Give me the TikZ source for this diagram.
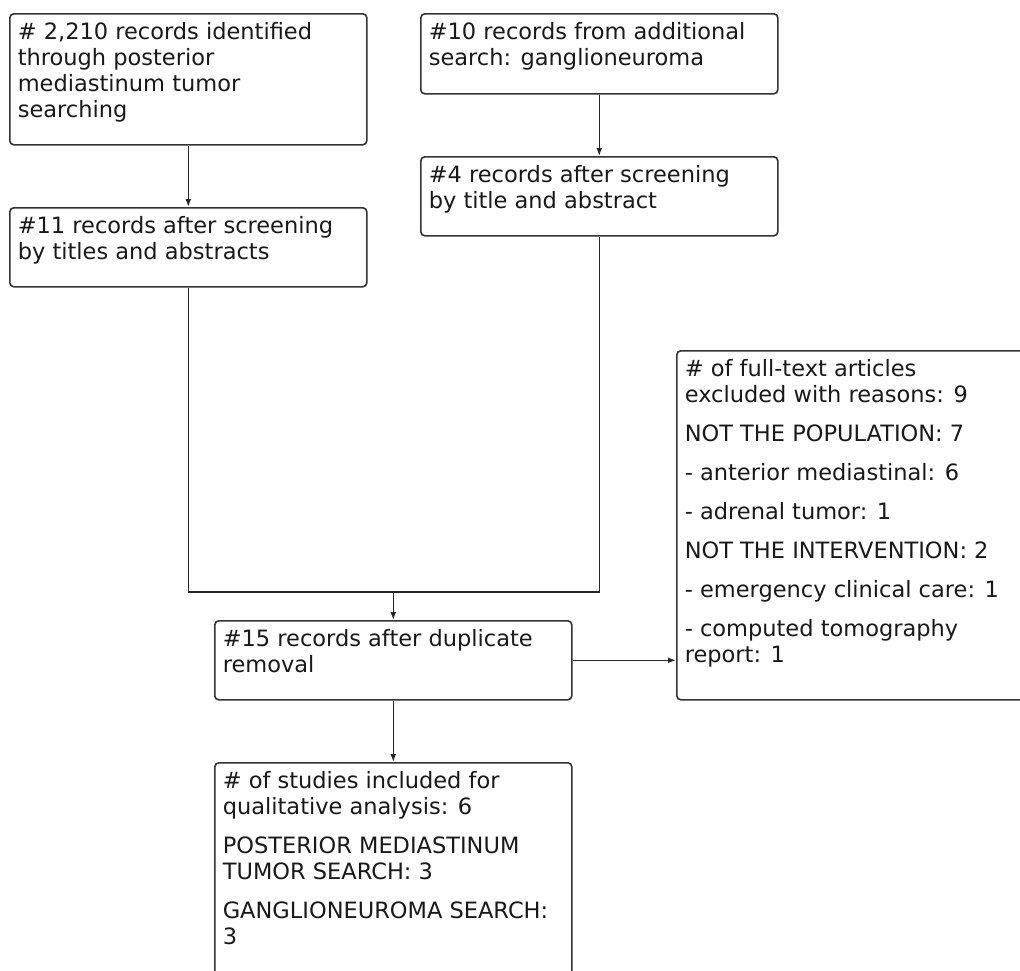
\documentclass[tikz,border=0pt]{standalone}
\usepackage{fontspec}
\setmainfont{DejaVu Sans}
\usepackage{tikz}
\usetikzlibrary{arrows.meta}
\usetikzlibrary{positioning}

\newcommand{\boxtext}[3]{\parbox[c][#2][t]{#1}{\raggedright\setlength{\parskip}{13pt}#3}}

\begin{document}
\begin{tikzpicture}[x=1pt,y=-1pt,>={Latex[length=8pt,width=6pt]},
box/.style={draw=black!80, line width=1.6pt, rounded corners=4pt, anchor=north west,
  inner xsep=8pt, inner ysep=9pt, font=\fontsize{22.5}{26}\selectfont, text=black!90},
line/.style={draw=black!85, line width=1.6pt}]
\useasboundingbox (0,0) rectangle (1020,970);
\fill[white] (0,0) rectangle (1020,970);
\clip (0,0) rectangle (1020,970);

\node[box] (r1) at (9,13) {\boxtext{341pt}{113pt}{\# 2,210 records identified\\ through posterior\\ mediastinum tumor\\ searching}};
\node[box] (r2) at (420,13) {\boxtext{341pt}{62pt}{\#10 records from additional\\ search: ganglioneuroma}};
\node[box] (s1) at (9,207) {\boxtext{341pt}{61pt}{\#11 records after screening\\ by titles and abstracts}};
\node[box] (s2) at (420,156) {\boxtext{341pt}{61pt}{\#4 records after screening\\ by title and abstract}};
\node[box] (dup) at (214,620) {\boxtext{341pt}{61pt}{\#15 records after duplicate\\ removal}};
\node[box] (excl) at (676,350) {\boxtext{383pt}{331pt}{\# of full-text articles\\ excluded with reasons: 9\par
NOT THE POPULATION: 7\par
- anterior mediastinal: 6\par
- adrenal tumor: 1\par
NOT THE INTERVENTION: 2\par
- emergency clinical care: 1\par
- computed tomography\\ report: 1}};
\node[box] (incl) at (214,762) {\boxtext{341pt}{242pt}{\# of studies included for\\ qualitative analysis: 6\par
POSTERIOR MEDIASTINUM\\ TUMOR SEARCH: 3\par
GANGLIONEUROMA SEARCH:\\ 3}};

\coordinate (m) at (dup.north |- 0,592);
\draw[line,->] (r1) -- (s1);
\draw[line,->] (r2) -- (s2);
\draw[line] (s1.south) |- (m) -| (s2.south);
\draw[line,->] (m) -- (dup.north);
\draw[line,->] (dup.east) -- (dup.east -| excl.west);
\draw[line,->] (dup) -- (incl);
\end{tikzpicture}
\end{document}
